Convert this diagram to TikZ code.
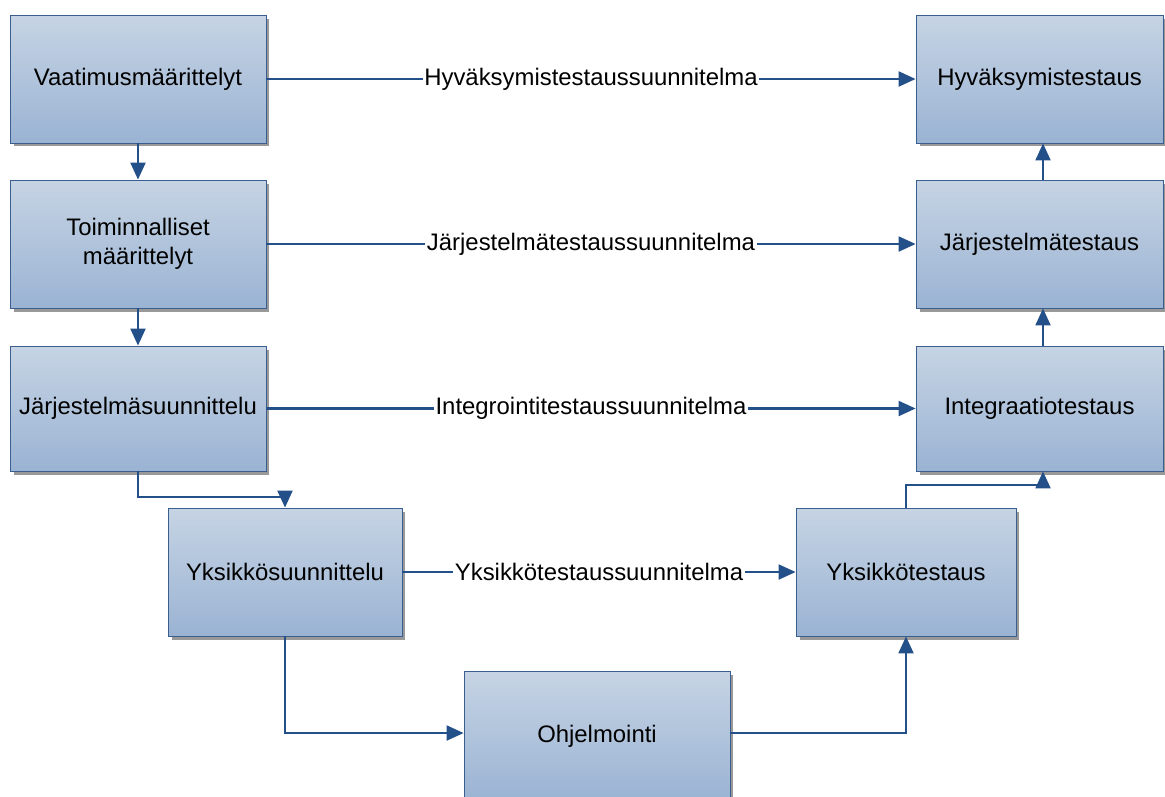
\documentclass[tikz,border=0pt]{standalone}
\usepackage{fontspec}
\setmainfont{Liberation Sans}
\usetikzlibrary{positioning, arrows.meta, shadows}
\definecolor{boxtop}{HTML}{C6D4E4}
\definecolor{boxbottom}{HTML}{9AB3D3}
\definecolor{boxline}{HTML}{3A5F8E}
\definecolor{linkblue}{HTML}{24508A}
\tikzset{
	x=0.02cm, y=-0.02cm, % yksi pikseli
	vaihe/.style={draw=boxline, line width=0.5pt, top color=boxtop, bottom color=boxbottom,
		align=center, minimum width=5.12cm, minimum height=2.56cm,
		font=\fontsize{13.6}{16.5}\selectfont,
		drop shadow={shadow xshift=0.07cm, shadow yshift=-0.07cm, fill=black!40, opacity=1}}, % laatikot
	nuoli/.style={draw=linkblue, line width=1.2pt, -{Triangle[length=0.34cm, width=0.3cm]}}, % yhteydet
	suunnitelma/.style={fill=white, inner xsep=1pt, font=\fontsize{13.6}{16.5}\selectfont} % tekstit nuolilla
}

\begin{document}
\begin{tikzpicture}
	\useasboundingbox (0,0) rectangle (1165,796);
	% vasen puoli
	\node[vaihe] (vaat) at (138,79) {Vaatimusmäärittelyt};
	\node[vaihe] (toim) at (138,244) {Toiminnalliset\\määrittelyt};
	\node[vaihe, minimum height=2.5cm] (jsu) at (138,408.5) {Järjestelmäsuunnittelu};
	\node[vaihe, minimum width=4.68cm] (ysu) at (285,572) {Yksikkösuunnittelu};
	\node[vaihe, minimum width=5.32cm, minimum height=2.6cm] (ohj) at (597,736) {Ohjelmointi};
	% oikea puoli
	\node[vaihe, minimum width=4.4cm] (ykt) at (906,572) {Yksikkötestaus};
	\node[vaihe, minimum width=4.94cm, minimum height=2.5cm] (int) at (1039.5,408.5) {Integraatiotestaus};
	\node[vaihe, minimum width=4.94cm] (jt) at (1039.5,244) {Järjestelmätestaus};
	\node[vaihe, minimum width=4.94cm] (hyv) at (1039.5,79) {Hyväksymistestaus};

	\draw[nuoli] (vaat) -- (toim);
	\draw[nuoli] (toim) -- (jsu);
	\draw[nuoli] (jsu.south) -- ++(0,26) -| (ysu.north);
	\draw[nuoli] (ysu.south) |- ([yshift=0.06cm]ohj.west);
	\draw[nuoli] ([yshift=0.06cm]ohj.east) -| (ykt.south);
	\draw[nuoli] (ykt.north) -- ++(0,-23) -| ([xshift=0.07cm]int.south);
	\draw[nuoli] ([xshift=0.07cm]int.north) -- ([xshift=0.07cm]jt.south);
	\draw[nuoli] ([xshift=0.07cm]jt.north) -- ([xshift=0.07cm]hyv.south);

	\draw[nuoli] (vaat) -- node[suunnitelma] {Hyväksymistestaussuunnitelma} (hyv);
	\draw[nuoli] (toim) -- node[suunnitelma] {Järjestelmätestaussuunnitelma} (jt);
	\draw[nuoli] (jsu) -- node[suunnitelma] {Integrointitestaussuunnitelma} (int);
	\draw[nuoli] (ysu) -- node[suunnitelma] {Yksikkötestaussuunnitelma} (ykt);
\end{tikzpicture}
\end{document}
